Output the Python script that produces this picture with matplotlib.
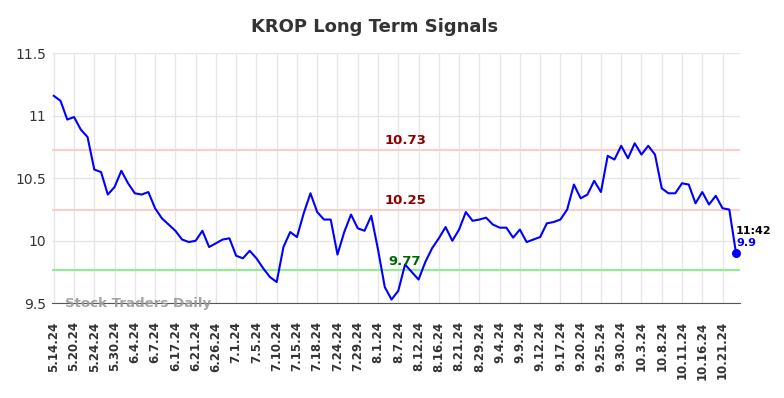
import numpy as np
import matplotlib
matplotlib.use("Agg")
import matplotlib.pyplot as plt

# Datos
closes = [11.16, 11.12, 10.97, 10.99, 10.89, 10.83, 10.57, 10.55, 10.37, 10.43,
          10.56, 10.46, 10.38, 10.37, 10.39, 10.26, 10.18, 10.13, 10.08, 10.01,
          9.99, 10.00, 10.08, 9.95, 9.98, 10.01, 10.02, 9.88, 9.86, 9.92,
          9.86, 9.78, 9.71, 9.67, 9.95, 10.07, 10.03, 10.22, 10.38, 10.23,
          10.17, 10.17, 9.89, 10.07, 10.21, 10.10, 10.08, 10.20, 9.93, 9.63,
          9.53, 9.60, 9.81, 9.75, 9.69, 9.83, 9.94, 10.02, 10.11, 10.00,
          10.09, 10.23, 10.16, 10.17, 10.185, 10.13, 10.105, 10.105, 10.025, 10.09,
          9.99, 10.01, 10.03, 10.14, 10.15, 10.17, 10.25, 10.45, 10.34, 10.37,
          10.48, 10.39, 10.68, 10.65, 10.76, 10.66, 10.78, 10.69, 10.76, 10.69,
          10.42, 10.38, 10.38, 10.46, 10.45, 10.30, 10.39, 10.29, 10.36, 10.26,
          10.25, 9.90]
tick_labels = ["5.14.24", "5.20.24", "5.24.24", "5.30.24", "6.4.24", "6.7.24",
               "6.17.24", "6.21.24", "6.26.24", "7.1.24", "7.5.24", "7.10.24",
               "7.15.24", "7.18.24", "7.24.24", "7.29.24", "8.1.24", "8.7.24",
               "8.12.24", "8.16.24", "8.21.24", "8.29.24", "9.4.24", "9.9.24",
               "9.12.24", "9.17.24", "9.20.24", "9.25.24", "9.30.24", "10.3.24",
               "10.8.24", "10.11.24", "10.16.24", "10.21.24"]
resistance = [10.73, 10.25]
support = [9.77]
last_time = "11:42"

x = np.arange(len(closes))

fig = plt.figure(figsize=(7.84, 3.98), dpi=100)
ax = fig.add_axes([0.066, 0.238, 0.878, 0.628])

ax.plot(x, closes, color="blue", lw=1.5, zorder=3)
ax.scatter([x[-1]], [closes[-1]], color="blue", s=30, zorder=4)

for r in resistance:
    ax.axhline(r, color="#ffcccc", lw=1.5, zorder=2)
    ax.text(52, r + 0.02, f"{r:.2f}", color="#8b0000", fontsize=9.5,
            fontweight="bold", ha="center", va="bottom")
for s in support:
    ax.axhline(s, color="#90ee90", lw=1.5, zorder=2)
    ax.text(52, s + 0.015, f"{s:.2f}", color="#006400", fontsize=9.5,
            fontweight="bold", ha="center", va="bottom")

ax.text(x[-1] + 0, closes[-1] + 0.18, last_time, fontsize=8, fontweight="bold",
        color="black", ha="left", va="center")
ax.text(x[-1] + 0, closes[-1] + 0.08, f"{closes[-1]:g}", fontsize=8,
        fontweight="bold", color="blue", ha="left", va="center")

ax.text(1.7, 9.5, "Stock Traders Daily", fontsize=9.6, fontweight="bold",
        color="#999999", alpha=0.9, ha="left", va="center", zorder=5)

ax.set_xlim(-0.3, 101.6)
ax.set_ylim(9.5, 11.5)
ax.set_xticks(x[::3])
ax.set_xticklabels(tick_labels, rotation=90, fontsize=8.5, fontweight="bold",
                   color="#333333")
ax.set_yticks([9.5, 10, 10.5, 11, 11.5])
ax.set_yticklabels(["9.5", "10", "10.5", "11", "11.5"], fontsize=10,
                   color="#333333")
ax.tick_params(axis="y", length=0, pad=4)
ax.tick_params(axis="x", length=0, pad=13)
ax.grid(True, color="#e6e6e6", lw=1)
ax.set_axisbelow(True)
for side in ["left", "right", "top"]:
    ax.spines[side].set_visible(False)
ax.spines["bottom"].set_color("#555555")

fig.text(375 / 784, 1 - 27 / 398, "KROP Long Term Signals", fontsize=13,
         fontweight="bold", color="#333333", ha="center", va="center")

fig.savefig("out.png", dpi=100)
